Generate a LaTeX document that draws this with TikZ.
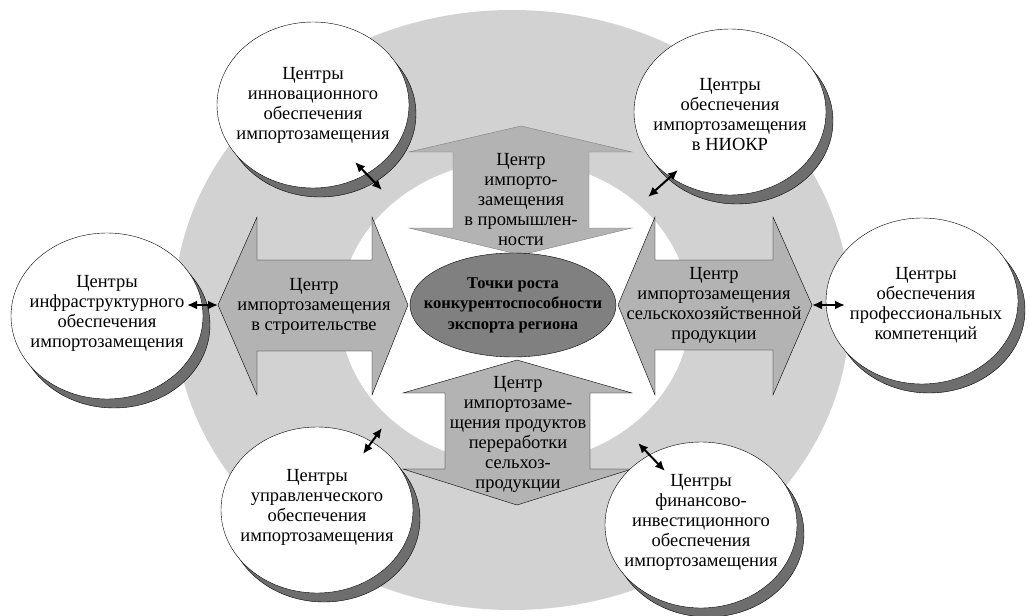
\documentclass[tikz,border=0pt]{standalone}
\usepackage{fontspec}
\setmainfont{Liberation Serif}
\usetikzlibrary{shapes.geometric, arrows.meta, shadows}

\definecolor{ringgrey}{HTML}{D2D2D2}
\definecolor{arrowgrey}{HTML}{B3B3B3}
\definecolor{coregrey}{HTML}{808080}
\definecolor{shadegrey}{HTML}{6E6E6E}

\begin{document}
\begin{tikzpicture}[x=1pt, y=-1pt,
  font=\fontsize{18.5}{20}\selectfont,
  hub/.style={ellipse, draw, fill=white, inner sep=0pt,
    minimum width=192pt, minimum height=166pt,
    general shadow={fill=shadegrey, draw=black, shadow xshift=7pt, shadow yshift=-9pt}},
  bigarrow/.style={draw=black, fill=arrowgrey, line join=miter},
  txt/.style={align=center, inner sep=0pt},
  link/.style={{Latex[length=10pt,width=9pt]}-{Latex[length=10pt,width=9pt]}, line width=2pt}]
  \useasboundingbox (0,0) rectangle (1029,616);

  % ring
  \fill[ringgrey, even odd rule] (512,310) ellipse [x radius=338pt, y radius=300pt]
    (515,312) ellipse [x radius=175pt, y radius=152pt];

  % big double arrows
  \draw[bigarrow, draw=gray] (521,126) -- (409,152) -- (453,152) -- (453,228) -- (409,228)
    -- (521,255) -- (632,228) -- (589,228) -- (589,152) -- (632,152) -- cycle;
  \draw[bigarrow] (517,360) -- (403,393) -- (445,393) -- (445,469) -- (403,469)
    -- (517,505) -- (632,469) -- (590,469) -- (590,393) -- (632,393) -- cycle;
  \draw[bigarrow] (218,305) -- (257,217) -- (257,260) -- (372,260) -- (372,217)
    -- (408,305) -- (372,395) -- (372,351) -- (257,351) -- (257,395) -- cycle;
  \draw[bigarrow] (618,305) -- (655,217) -- (655,260) -- (773,260) -- (773,217)
    -- (812,305) -- (773,395) -- (773,350) -- (655,350) -- (655,395) -- cycle;

  \node[txt] (prom) at (521,200) {Центр\\импорто-\\замещения\\в промышлен-\\ности};
  \node[txt] (stroi) at (314,306) {Центр\\импортозамещения\\в строительстве};
  \node[txt] (selhoz) at (714,305) {Центр\\импортозамещения\\сельскохозяйственной\\продукции};
  \node[txt] (pererab) at (518,434) {Центр\\импортозаме-\\щения продуктов\\переработки\\сельхоз-\\продукции};

  % core
  \node[ellipse, draw, fill=coregrey, inner sep=0pt, minimum width=206pt, minimum height=104pt,
    label={[txt, font=\fontsize{16.5}{20.5}\selectfont\bfseries]center:Точки роста\\конкурентоспособности\\экспорта региона}]
    (tochki) at (513,305) {};

  % centres
  \node[hub, label={[txt]center:Центры\\инновационного\\обеспечения\\импортозамещения}]
    (innov) at (313,105) {};
  \node[hub, label={[txt, yshift=-3pt]center:Центры\\обеспечения\\импортозамещения\\в НИОКР}]
    (niokr) at (730,112) {};
  \node[hub, label={[txt, yshift=3pt]center:Центры\\инфраструктурного\\обеспечения\\импортозамещения}]
    (infra) at (107,316) {};
  \node[hub, label={[txt, xshift=4pt, yshift=-4pt]center:Центры\\обеспечения\\профессиональных\\компетенций}]
    (kompet) at (922,301) {};
  \node[hub, label={[txt, yshift=3pt]center:Центры\\управленческого\\обеспечения\\импортозамещения}]
    (uprav) at (317,510) {};
  \node[hub, label={[txt, yshift=3pt]center:Центры\\финансово-\\инвестиционного\\обеспечения\\импортозамещения}]
    (finans) at (701,525) {};

  % links
  \coordinate (innov-a) at (355,162);
  \coordinate (innov-b) at (382,190);
  \coordinate (niokr-a) at (678,170);
  \coordinate (niokr-b) at (648,197);
  \coordinate (infra-a) at (187,305);
  \coordinate (infra-b) at (218,305);
  \coordinate (kompet-a) at (812,305);
  \coordinate (kompet-b) at (845,305);
  \coordinate (uprav-a) at (382,428);
  \coordinate (uprav-b) at (363,454);
  \coordinate (finans-a) at (638,443);
  \coordinate (finans-b) at (665,471);
  \draw[link] (innov-a) -- (innov-b);
  \draw[link] (niokr-a) -- (niokr-b);
  \draw[link] (infra-a) -- (infra-b);
  \draw[link] (kompet-a) -- (kompet-b);
  \draw[link] (uprav-a) -- (uprav-b);
  \draw[link] (finans-a) -- (finans-b);
\end{tikzpicture}
\end{document}
